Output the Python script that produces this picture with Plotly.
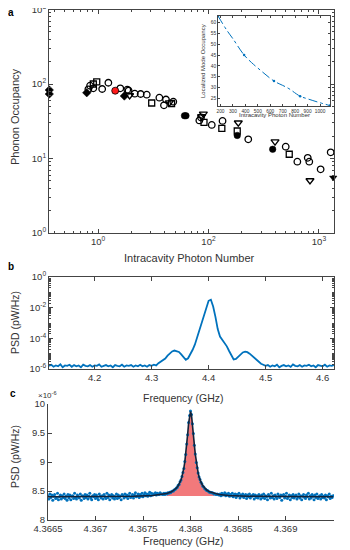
import plotly.graph_objects as go

# ---------------- panel a : phonon occupancy vs intracavity photon number
circ_x = [8.17, 8.47, 9.06, 10.9, 12.4, 15.9, 18.4, 18.9, 21.5, 24.3, 27.6, 35.9, 41.2, 39.5, 48.0,
          82.6, 85.5, 107, 134, 229, 500, 637, 791, 817, 1035, 1276]
circ_y = [84.9, 94.9, 87.5, 85.7, 104, 87.5, 83.8, 81.8, 74.1, 73.4, 71.8, 65.5, 61.9, 51.8, 57.9,
          32.4, 35.5, 28.2, 31.9, 18.1, 14.4, 9.06, 10.2, 9.06, 7.16, 12.1]

sq_x = [9.73, 9.06, 30.6, 46.3, 91, 132, 182, 538]
sq_y = [107, 100, 55.6, 54.7, 30.6, 25.4, 23.4, 11.4]

tri_x = [19.3, 44.2, 89.8, 86.5, 186, 400, 829]
tri_y = [70.1, 56.1, 39.6, 36.6, 30.2, 16.8, 5.07]

filled_x = [3.62, 3.62, 7.9, 17.3, 62.5, 60.6, 182, 381, 1346]
filled_y = [83.0, 73.4, 76.4, 69.0, 37.5, 37.5, 20.4, 13.3, 5.53]
filled_sym = ["diamond", "diamond", "diamond", "diamond", "circle", "circle", "circle", "circle", "triangle-down"]

red_x = [14.3]
red_y = [81.3]

# inset
inset_photons = [180, 250, 300, 390, 450, 500, 630, 700, 750, 840, 900, 1000, 1080]
inset_occ = [63, 56.5, 52.5, 45, 41.5, 39, 33, 31, 29.5, 26, 24.8, 23, 21.7]
inset_pts_x = [180, 390, 630, 840, 1080]
inset_pts_y = [63, 45, 33, 26, 21.7]

# ---------------- panel b : wide PSD (values in 1e-6 pW/Hz, 4 MHz steps from 4.12 GHz)
b_start = 4.12
b_step = 0.004
psd_b = [1.6, 1.9, 1.4, 1.7, 1.5, 2.0, 1.3, 1.7, 1.6, 1.9, 1.4, 1.8, 1.5, 1.7, 1.3, 1.9, 1.6, 1.5, 1.8, 1.4,
         1.7, 1.6, 2.0, 1.4, 1.6, 1.8, 1.5, 1.7, 1.3, 1.8, 1.6, 1.5, 1.9, 1.4, 1.7, 1.6, 1.8, 1.4, 1.7, 1.5,
         1.9, 1.5, 1.7, 1.4, 1.8, 1.6, 1.9, 1.7, 2.4, 2.9, 3.6, 4.8, 7.5, 11, 14, 16, 15, 13, 9, 5.5,
         4.0, 5.0, 9.0, 18, 40, 120, 300, 900, 3000, 11000, 28000, 33000, 12000, 2500, 400, 130, 80, 45, 30, 15,
         7.0, 4.2, 4.5, 6.5, 9.5, 12, 13.5, 12.5, 10, 7.5, 5.2, 3.8, 2.8, 2.2, 1.9, 1.6, 1.8, 1.4, 1.7, 1.5,
         1.9, 1.3, 1.6, 1.8, 1.5, 1.7, 1.4, 2.0, 1.6, 1.5, 1.8, 1.4, 1.7, 1.6, 1.9, 1.5, 1.7, 1.3, 1.8, 1.6,
         1.5, 1.9, 1.4, 1.7, 1.6, 1.8]

# ---------------- panel c : zoomed PSD (values in 1e-6 pW/Hz, 10 kHz steps from 4.3665 GHz)
c_start = 4.3665
c_step = 0.00001
psd_c = [8.42, 8.36, 8.45, 8.39, 8.43, 8.34, 8.41, 8.44, 8.37, 8.38, 8.46, 8.35, 8.40, 8.43, 8.36, 8.42, 8.39, 8.45, 8.37, 8.41,
         8.34, 8.44, 8.38, 8.43, 8.35, 8.41, 8.42, 8.37, 8.46, 8.39, 8.36, 8.43, 8.40, 8.38, 8.45, 8.34, 8.42, 8.41, 8.37, 8.44,
         8.39, 8.43, 8.36, 8.41, 8.46, 8.38, 8.35, 8.42, 8.40, 8.44, 8.37, 8.43, 8.39, 8.35, 8.45, 8.41, 8.38, 8.42, 8.36, 8.44,
         8.40, 8.37, 8.46, 8.39, 8.43, 8.35, 8.41, 8.44, 8.38, 8.42, 8.36, 8.40, 8.45, 8.37, 8.43, 8.39, 8.41, 8.35, 8.44, 8.42,
         8.38, 8.45, 8.40, 8.43, 8.37, 8.42, 8.46, 8.39, 8.41, 8.44, 8.38, 8.43, 8.47, 8.40, 8.42, 8.45, 8.39, 8.44, 8.41, 8.46,
         8.40, 8.43, 8.47, 8.42, 8.45, 8.41, 8.44, 8.48, 8.42, 8.46, 8.43, 8.45, 8.44, 8.47, 8.43, 8.46, 8.45, 8.44, 8.47, 8.45,
         8.45, 8.44, 8.46, 8.44, 8.46, 8.45, 8.47, 8.46, 8.48, 8.47, 8.49, 8.50, 8.50, 8.52, 8.53, 8.55, 8.56, 8.60, 8.61, 8.66,
         8.69, 8.75, 8.82, 8.89, 9.01, 9.13, 9.31, 9.47, 9.68, 9.80, 9.88,
         9.82, 9.66, 9.49, 9.29, 9.14, 8.99, 8.90, 8.81, 8.74, 8.70, 8.65, 8.62, 8.58, 8.57, 8.54, 8.53, 8.51, 8.51, 8.49, 8.48,
         8.48, 8.47, 8.47, 8.46, 8.45, 8.45, 8.44, 8.45, 8.44, 8.43,
         8.45, 8.42, 8.46, 8.43, 8.44, 8.47, 8.42, 8.45, 8.43, 8.46, 8.41, 8.44, 8.42, 8.46, 8.40, 8.43, 8.45, 8.39, 8.44, 8.42,
         8.46, 8.38, 8.43, 8.41, 8.45, 8.39, 8.42, 8.44, 8.37, 8.43, 8.40, 8.45, 8.38, 8.42, 8.41, 8.44, 8.36, 8.43, 8.39, 8.42,
         8.38, 8.44, 8.41, 8.36, 8.43, 8.39, 8.45, 8.37, 8.42, 8.40, 8.35, 8.44, 8.41, 8.38, 8.46, 8.39, 8.42, 8.36, 8.43, 8.40,
         8.37, 8.45, 8.41, 8.39, 8.43, 8.34, 8.42, 8.44, 8.38, 8.41, 8.46, 8.37, 8.40, 8.43, 8.35, 8.42, 8.39, 8.44, 8.38, 8.41,
         8.43, 8.36, 8.40, 8.45, 8.38, 8.42, 8.35, 8.41, 8.44, 8.39, 8.37, 8.43, 8.40, 8.46, 8.36, 8.42, 8.38, 8.44, 8.41, 8.35,
         8.43, 8.39, 8.45, 8.37, 8.40, 8.42, 8.36, 8.44, 8.39, 8.41, 8.38, 8.43, 8.35, 8.42, 8.40, 8.45, 8.37, 8.41, 8.39, 8.42]

# lorentzian fit
fit_f = [4.36650, 4.36700, 4.36740, 4.36760, 4.36770, 4.36775, 4.36780, 4.36783, 4.36785, 4.36787,
         4.36789, 4.36790, 4.36791, 4.36792, 4.36793, 4.36794, 4.36795, 4.36796, 4.36797, 4.36798,
         4.36799, 4.36800, 4.36801, 4.36802, 4.36803, 4.36804, 4.36805, 4.36806, 4.36807, 4.36808,
         4.36809, 4.36810, 4.36811, 4.36813, 4.36815, 4.36817, 4.36820, 4.36825, 4.36830, 4.36840,
         4.36860, 4.36900, 4.36950]
fit_psd = [8.402, 8.404, 8.410, 8.423, 8.440, 8.457, 8.486, 8.517, 8.547, 8.589,
           8.652, 8.694, 8.747, 8.813, 8.897, 9.002, 9.135, 9.30, 9.48, 9.67,
           9.81, 9.87, 9.81, 9.67, 9.48, 9.30, 9.135, 9.002, 8.897, 8.813,
           8.747, 8.694, 8.652, 8.589, 8.547, 8.517, 8.486, 8.457, 8.440, 8.423,
           8.410, 8.404, 8.402]
fill_base = 8.415

blue = "#0072BD"
axcol = "#444444"
txtcol = "#333333"

# the page body keeps its 8px margin, so the figure is laid out in page pixels minus 8
W, H, OFF = 342, 542, 8


def fx(p):
    return (p - OFF) / W


def fy(p):
    return 1 - (p - OFF) / H


fig = go.Figure()

# panel a
fig.add_trace(go.Scatter(x=circ_x, y=circ_y, mode="markers", xaxis="x", yaxis="y",
                         marker=dict(symbol="circle-open", size=6.5, color="black", line=dict(width=1.3))))
fig.add_trace(go.Scatter(x=sq_x, y=sq_y, mode="markers", xaxis="x", yaxis="y",
                         marker=dict(symbol="square-open", size=6, color="black", line=dict(width=1.3))))
fig.add_trace(go.Scatter(x=tri_x, y=tri_y, mode="markers", xaxis="x", yaxis="y",
                         marker=dict(symbol="triangle-down-open", size=7, color="black", line=dict(width=1.3))))
fig.add_trace(go.Scatter(x=filled_x, y=filled_y, mode="markers", xaxis="x", yaxis="y", cliponaxis=False,
                         marker=dict(symbol=filled_sym, size=6.5, color="black", line=dict(width=0.5, color="black"))))
fig.add_trace(go.Scatter(x=red_x, y=red_y, mode="markers", xaxis="x", yaxis="y",
                         marker=dict(symbol="circle", size=7, color="#FF1A1A", line=dict(width=0.8, color="black"))))

# inset
fig.add_trace(go.Scatter(x=inset_photons, y=inset_occ, mode="lines", xaxis="x2", yaxis="y2",
                         line=dict(color=blue, width=1, dash="dashdot", shape="spline")))
fig.add_trace(go.Scatter(x=inset_pts_x, y=inset_pts_y, mode="markers", xaxis="x2", yaxis="y2",
                         marker=dict(color=blue, size=2.5)))

# panel b
fig.add_trace(go.Scatter(x0=b_start, dx=b_step, y=[v * 1e-6 for v in psd_b], mode="lines",
                         xaxis="x3", yaxis="y3", line=dict(color=blue, width=1.8)))

# panel c
fill_f = fit_f[5:-5]
fig.add_trace(go.Scatter(x=fill_f, y=[fill_base] * len(fill_f), mode="lines", xaxis="x4", yaxis="y4",
                         line=dict(width=0, color="rgba(0,0,0,0)")))
fig.add_trace(go.Scatter(x=fill_f, y=fit_psd[5:-5], mode="lines", xaxis="x4", yaxis="y4",
                         fill="tonexty", fillcolor="#F2797B", line=dict(width=0, color="rgba(0,0,0,0)")))
fig.add_trace(go.Scatter(x0=c_start, dx=c_step, y=psd_c, mode="markers", xaxis="x4", yaxis="y4",
                         marker=dict(color=blue, size=3)))
fig.add_trace(go.Scatter(x=fit_f, y=fit_psd, mode="lines", xaxis="x4", yaxis="y4",
                         line=dict(color="#13233A", width=1.6)))

ax = dict(showline=True, linecolor=axcol, linewidth=1, mirror="allticks", ticks="inside", ticklen=4,
          tickcolor=axcol, showgrid=False, zeroline=False, automargin=False, ticklabeloverflow="allow",
          tickfont=dict(size=9.5, color=txtcol))
small = dict(showline=True, linecolor=axcol, linewidth=0.8, mirror="allticks", ticks="inside", ticklen=2,
             tickcolor=axcol, showgrid=False, zeroline=False, automargin=False, tickangle=0,
             tickfont=dict(size=4.8, color=txtcol))
minor_log = dict(ticks="inside", ticklen=2, tickcolor=axcol, dtick="D1", showgrid=False)


def pw(n):
    return "10<sup>%d</sup>" % n


fig.update_layout(
    width=W, height=H, margin=dict(l=0, r=0, t=0, b=0, autoexpand=False),
    paper_bgcolor="white", plot_bgcolor="white", showlegend=False,
    font=dict(family="Liberation Sans, Arial, sans-serif", color=txtcol),
    xaxis=dict(ax, domain=[fx(49), fx(334)], anchor="y", type="log", range=[0.556, 3.136],
               tickvals=[10, 100, 1000], ticktext=[pw(0), pw(2), pw(3)], minor=minor_log),
    yaxis=dict(ax, domain=[fy(233), fy(9.5)], anchor="x", type="log", range=[0, 3],
               tickvals=[1, 10, 100, 1000], ticktext=[pw(0), pw(1), pw(2), pw(3)], minor=minor_log),
    xaxis2=dict(small, domain=[fx(218), fx(330)], anchor="y2", range=[180, 1080],
                tickvals=[200, 300, 400, 500, 600, 700, 800, 900, 1000]),
    yaxis2=dict(small, domain=[fy(106), fy(16)], anchor="x2", range=[21.5, 63],
                tickvals=[25, 30, 35, 40, 45, 50, 55, 60]),
    xaxis3=dict(ax, domain=[fx(49), fx(334)], anchor="y3", range=[4.12, 4.62],
                tickvals=[4.2, 4.3, 4.4, 4.5, 4.6], ticktext=["4.2", "4.3", "4.4", "4.5", "4.6"]),
    yaxis3=dict(ax, domain=[fy(369), fy(277)], anchor="x3", type="log", range=[-6, 0],
                tickvals=[1e-6, 1e-4, 1e-2, 1], ticktext=[pw(-6), pw(-4), pw(-2), pw(0)], minor=minor_log),
    xaxis4=dict(ax, domain=[fx(48), fx(334)], anchor="y4", range=[4.3665, 4.36951], mirror=False,
                tickvals=[4.3665, 4.367, 4.3675, 4.368, 4.3685, 4.369],
                ticktext=["4.3665", "4.367", "4.3675", "4.368", "4.3685", "4.369"]),
    yaxis4=dict(ax, domain=[fy(520), fy(404)], anchor="x4", range=[8, 10], mirror=False,
                tickvals=[8, 8.5, 9, 9.5, 10], ticktext=["8", "8.5", "9", "9.5", "10"]),
)

ann = [
    dict(x=fx(11), y=fy(13), text="<b>a</b>", font=dict(size=10, color="black")),
    dict(x=fx(11), y=fy(266), text="<b>b</b>", font=dict(size=10, color="black")),
    dict(x=fx(13), y=fy(393), text="<b>c</b>", font=dict(size=10, color="black")),
    dict(x=fx(189), y=fy(258), text="Intracavity Photon Number", font=dict(size=11)),
    dict(x=fx(15), y=fy(117), text="Phonon Occupancy", textangle=-90, font=dict(size=11)),
    dict(x=fx(15), y=fy(323), text="PSD (pW/Hz)", textangle=-90, font=dict(size=10.5)),
    dict(x=fx(183), y=fy(398), text="Frequency (GHz)", font=dict(size=10.5)),
    dict(x=fx(15), y=fy(457), text="PSD (pW/Hz)", textangle=-90, font=dict(size=10.5)),
    dict(x=fx(183), y=fy(541), text="Frequency (GHz)", font=dict(size=10.5)),
    dict(x=fx(47), y=fy(395), text="×10<sup>-6</sup>", font=dict(size=8)),
    dict(x=fx(203), y=fy(61), text="Localized Mode Occupancy", textangle=-90, font=dict(size=6)),
    dict(x=fx(274), y=fy(115), text="Intracavity Photon Number", font=dict(size=6)),
]
for a in ann:
    a.update(xref="paper", yref="paper", showarrow=False, xanchor="center", yanchor="middle")
fig.update_layout(annotations=ann)

fig.write_html("out.html")
